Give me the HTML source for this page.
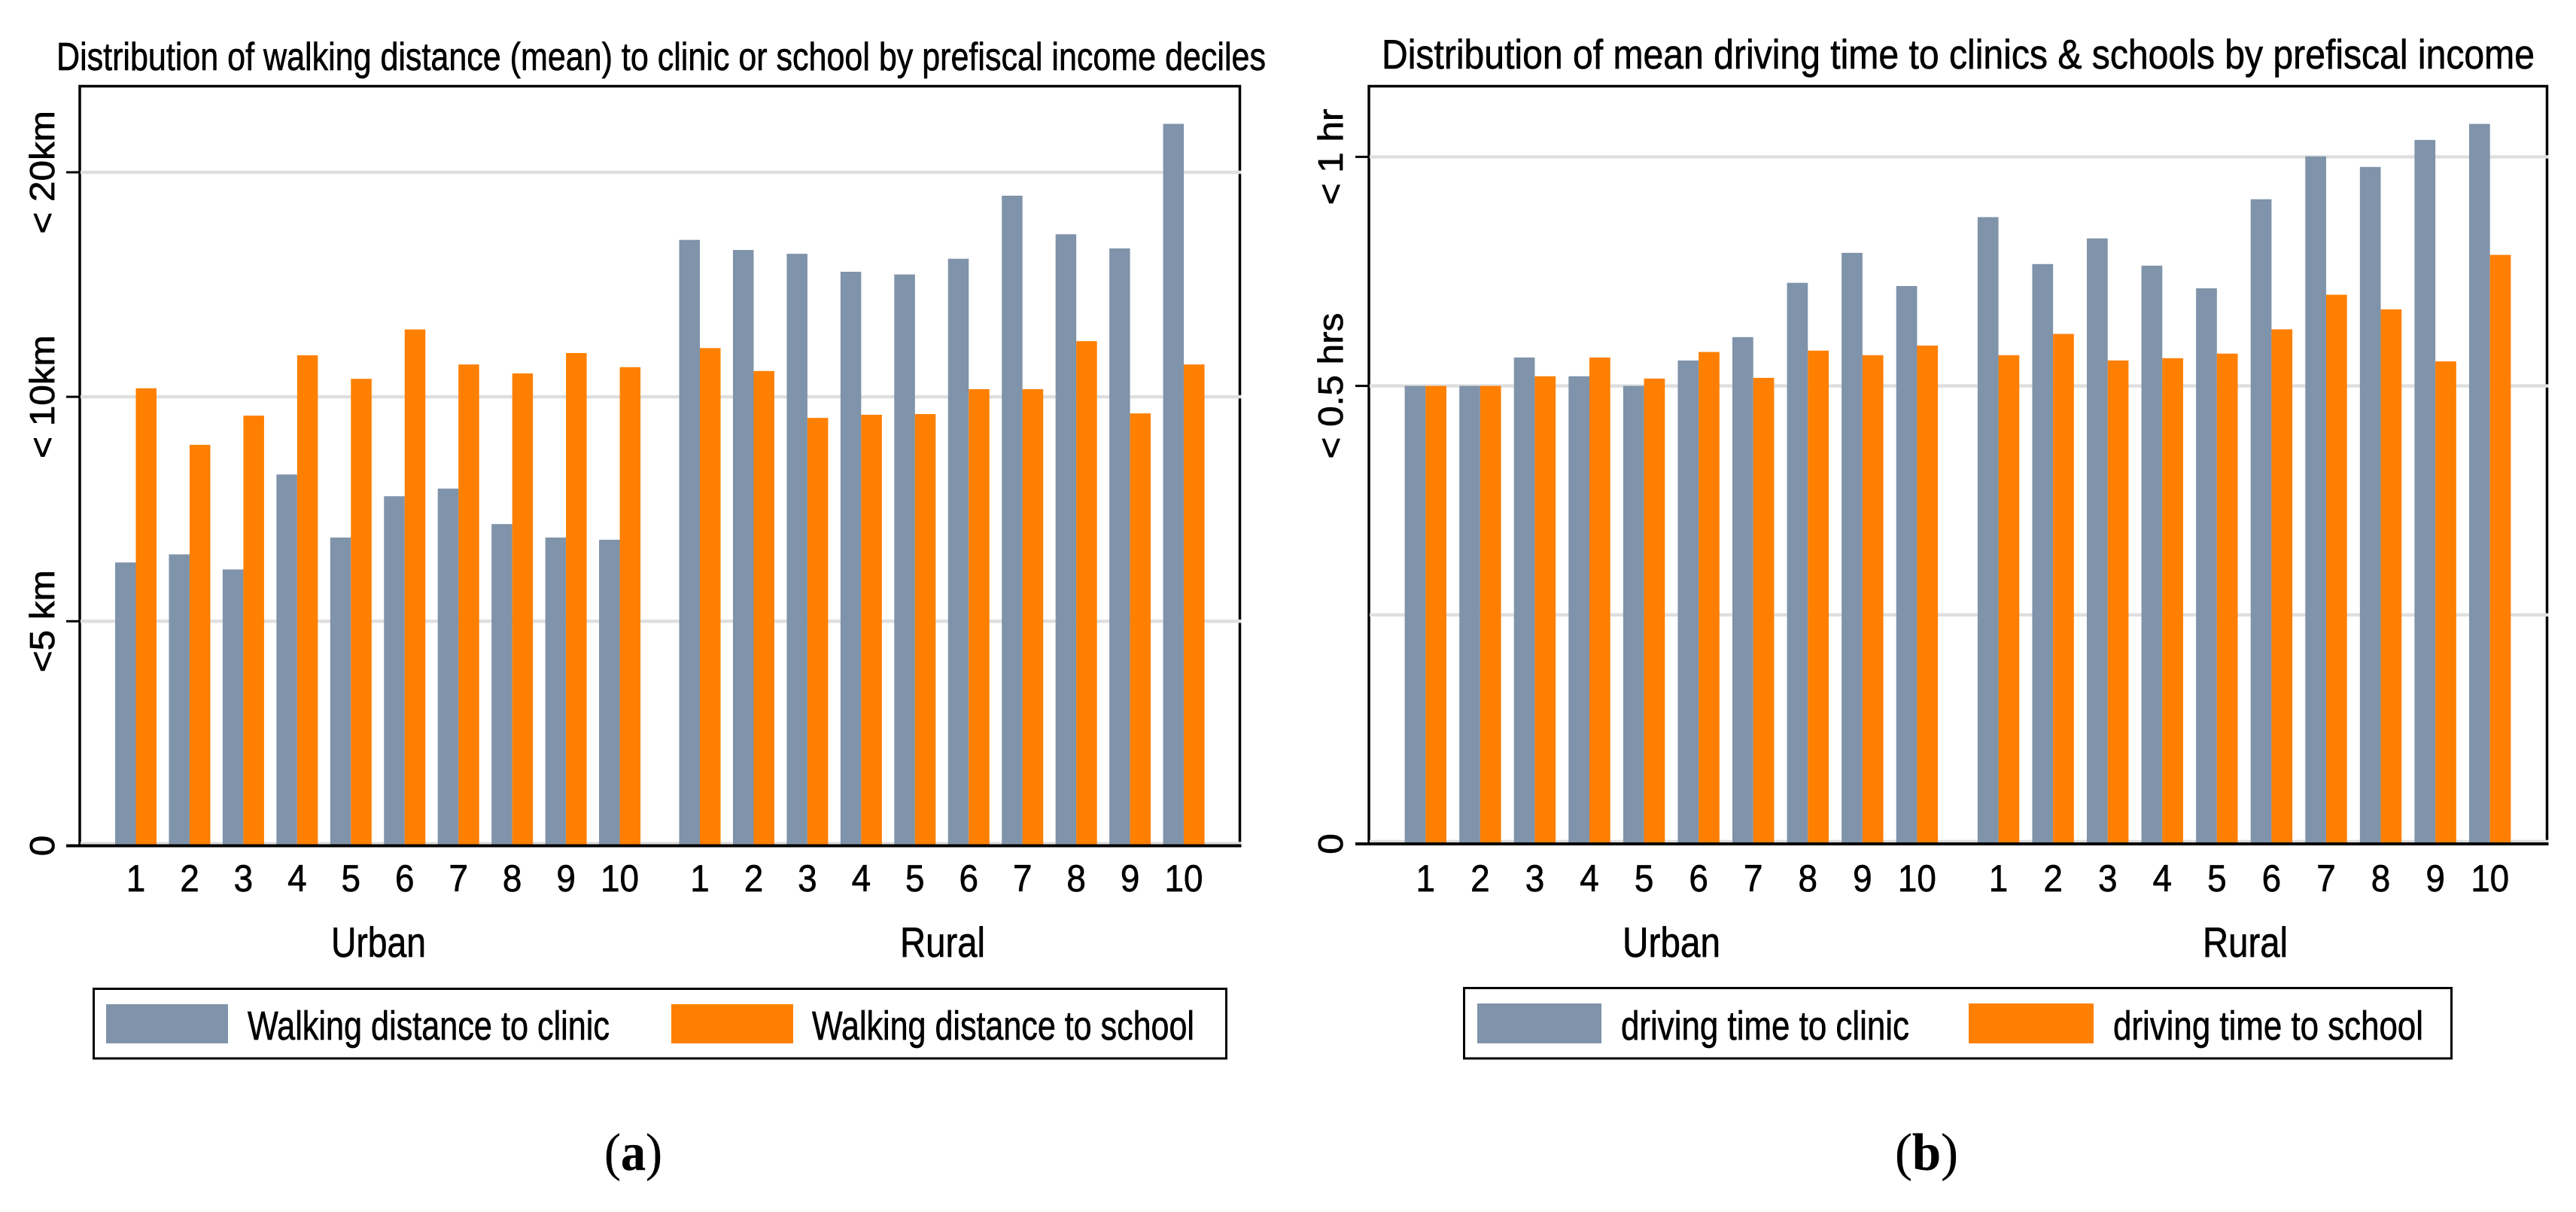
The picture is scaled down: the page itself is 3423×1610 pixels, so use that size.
<!DOCTYPE html>
<html>
<head>
<meta charset="utf-8">
<title>Distribution of walking distance and driving time by prefiscal income deciles</title>
<style>
html,body{margin:0;padding:0;background:#fff;}
svg{display:block;}
text{font-family:"Liberation Sans",sans-serif;fill:#000;stroke:#000;stroke-width:0.7px;}
.serif{font-family:"Liberation Serif",serif;stroke-width:0.3px;}
</style>
</head>
<body>
<svg id="figure" xmlns="http://www.w3.org/2000/svg" width="3423" height="1610" viewBox="0 0 3423 1610">
  <rect x="0" y="0" width="3423" height="1610" fill="#fff"/>

  <g id="panel-a">
    <text x="75" y="93" font-size="52" textLength="1607" lengthAdjust="spacingAndGlyphs">Distribution of walking distance (mean) to clinic or school by prefiscal income deciles</text>
    <text x="440" y="1271" font-size="56" textLength="126" lengthAdjust="spacingAndGlyphs">Urban</text>
    <text x="1196" y="1271" font-size="56" textLength="113" lengthAdjust="spacingAndGlyphs">Rural</text>
    <rect x="124.5" y="1313.5" width="1505" height="92.5" fill="#fff" stroke="#000" stroke-width="3"/>
    <rect x="141" y="1334" width="162" height="52" fill="#7f93aa"/>
    <text x="329" y="1381" font-size="54" textLength="481" lengthAdjust="spacingAndGlyphs">Walking distance to clinic</text>
    <rect x="892" y="1334" width="162" height="52" fill="#ff7f00"/>
    <text x="1079" y="1381" font-size="54" textLength="508" lengthAdjust="spacingAndGlyphs">Walking distance to school</text>
    <text class="serif" x="803" y="1554" font-size="70" textLength="77" lengthAdjust="spacingAndGlyphs">(<tspan font-weight="bold">a</tspan>)</text>
  </g>

  <g id="panel-b">
    <text x="1836" y="91" font-size="55" textLength="1532" lengthAdjust="spacingAndGlyphs">Distribution of mean driving time to clinics &amp; schools by prefiscal income</text>
    <text x="2156" y="1271" font-size="56" textLength="130" lengthAdjust="spacingAndGlyphs">Urban</text>
    <text x="2927" y="1271" font-size="56" textLength="113" lengthAdjust="spacingAndGlyphs">Rural</text>
    <rect x="1945.5" y="1312.5" width="1312" height="93.5" fill="#fff" stroke="#000" stroke-width="3"/>
    <rect x="1963" y="1333" width="165" height="53" fill="#7f93aa"/>
    <text x="2154" y="1381" font-size="54" textLength="383" lengthAdjust="spacingAndGlyphs">driving time to clinic</text>
    <rect x="2616" y="1333" width="166" height="53" fill="#ff7f00"/>
    <text x="2808" y="1381" font-size="54" textLength="412" lengthAdjust="spacingAndGlyphs">driving time to school</text>
    <text class="serif" x="2518" y="1554" font-size="70" textLength="84" lengthAdjust="spacingAndGlyphs">(<tspan font-weight="bold">b</tspan>)</text>
  </g>
</svg>

<script>
var categories = ["1","2","3","4","5","6","7","8","9","10","1","2","3","4","5","6","7","8","9","10"];

var walkClinic = [1.262,1.298,1.231,1.654,1.373,1.557,1.591,1.433,1.373,1.363,2.699,2.654,2.637,2.557,2.545,2.615,2.896,2.724,2.661,3.216];
var walkSchool = [2.038,1.786,1.916,2.185,2.080,2.300,2.144,2.104,2.195,2.132,2.217,2.115,1.906,1.920,1.923,2.034,2.034,2.248,1.926,2.144];
var walkTickValues = [0,1,2,3];
var walkTickLabels = ["0","<5 km","< 10km","< 20km"];

var driveClinic = [2.000,2.000,2.124,2.042,2.000,2.111,2.213,2.450,2.581,2.436,2.737,2.532,2.644,2.525,2.426,2.815,3.002,2.956,3.074,3.144];
var driveSchool = [2.000,2.000,2.042,2.124,2.032,2.148,2.035,2.154,2.134,2.176,2.134,2.227,2.111,2.121,2.141,2.247,2.398,2.334,2.107,2.572];
var driveTickValues = [0,1,2,3];
var driveTickLabels = ["0","","< 0.5 hrs","< 1 hr"];

var SVG_NS = "http://www.w3.org/2000/svg";

function make(parent, tag) {
  var el = document.createElementNS(SVG_NS, tag);
  parent.appendChild(el);
  return el;
}

function drawChart(parent, layout, clinic, school, tickValues, tickLabels) {
  var xBand = function (i) {
    return layout.x0 + (i + (i >= 10 ? layout.groupGap : 0)) * layout.step;
  };
  var yScale = function (v) {
    return layout.zeroY - v * layout.unit;
  };

  var g = make(parent, "g");
  
  

  var frame = make(g, "path");
  
  
  frame.setAttribute("d", "M" + layout.left + " " + layout.zeroY + "V" + layout.top + "H" + layout.right + "V" + layout.zeroY);
  frame.setAttribute("fill", "none");
  frame.setAttribute("stroke", "#000");
  frame.setAttribute("stroke-width", layout.frameWidth);

  tickValues.forEach(function (v, i) {
    var y = yScale(v);
    var grid = make(g, "line");
    
    
    grid.setAttribute("x1", layout.left + 1);
    grid.setAttribute("x2", layout.right + 2);
    grid.setAttribute("y1", v === 0 ? y - 3 : y);
    grid.setAttribute("y2", v === 0 ? y - 3 : y);
    grid.setAttribute("stroke", "#dfdfdf");
    grid.setAttribute("stroke-width", 4.5);

    if (tickLabels[i] !== "") {
      var tick = make(g, "line");
      
      
      tick.setAttribute("x1", layout.left - 18);
      tick.setAttribute("x2", layout.left);
      tick.setAttribute("y1", y);
      tick.setAttribute("y2", y);
      tick.setAttribute("stroke", "#000");
      tick.setAttribute("stroke-width", 3);

      var label = make(g, "text");
      
      
      label.setAttribute("transform", "translate(" + layout.yLabelX + "," + y + ") rotate(-90) scale(1.075,1)");
      label.setAttribute("text-anchor", "middle");
      label.setAttribute("font-size", 46);
      label.textContent = tickLabels[i];
    }
  });

  categories.forEach(function (c, i) {
    var x = xBand(i);
    var barA = make(g, "rect");
    
    
    barA.setAttribute("x", x);
    barA.setAttribute("y", yScale(clinic[i]));
    barA.setAttribute("width", layout.barW);
    barA.setAttribute("height", layout.zeroY - yScale(clinic[i]));
    barA.setAttribute("fill", "#7f93aa");

    var barB = make(g, "rect");
    
    
    barB.setAttribute("x", x + layout.barW);
    barB.setAttribute("y", yScale(school[i]));
    barB.setAttribute("width", layout.barW);
    barB.setAttribute("height", layout.zeroY - yScale(school[i]));
    barB.setAttribute("fill", "#ff7f00");

    var xLabel = make(g, "text");
    
    
    xLabel.setAttribute("x", x + layout.barW);
    xLabel.setAttribute("y", 1184);
    xLabel.setAttribute("text-anchor", "middle");
    xLabel.setAttribute("font-size", 50);
    xLabel.setAttribute("textLength", c.length * 25.5);
    xLabel.setAttribute("lengthAdjust", "spacingAndGlyphs");
    xLabel.textContent = c;
  });

  var axis = make(g, "line");
  
  
  axis.setAttribute("x1", layout.left - 18);
  axis.setAttribute("x2", layout.right + 2);
  axis.setAttribute("y1", layout.zeroY);
  axis.setAttribute("y2", layout.zeroY);
  axis.setAttribute("stroke", "#000");
  axis.setAttribute("stroke-width", 4);
}

drawChart(document.getElementById("panel-a"),
  {x0: 153, step: 71.45, groupGap: 0.49, barW: 27.5, zeroY: 1123.5, unit: 298.2, left: 106, right: 1647.5, top: 114.5, frameWidth: 3.5, yLabelX: 72},
  walkClinic, walkSchool, walkTickValues, walkTickLabels);

drawChart(document.getElementById("panel-b"),
  {x0: 1866.6, step: 72.57, groupGap: 0.49, barW: 27.7, zeroY: 1121, unit: 304.2, left: 1819, right: 3384.5, top: 114.5, frameWidth: 3.5, yLabelX: 1784},
  driveClinic, driveSchool, driveTickValues, driveTickLabels);
</script>
</body>
</html>
